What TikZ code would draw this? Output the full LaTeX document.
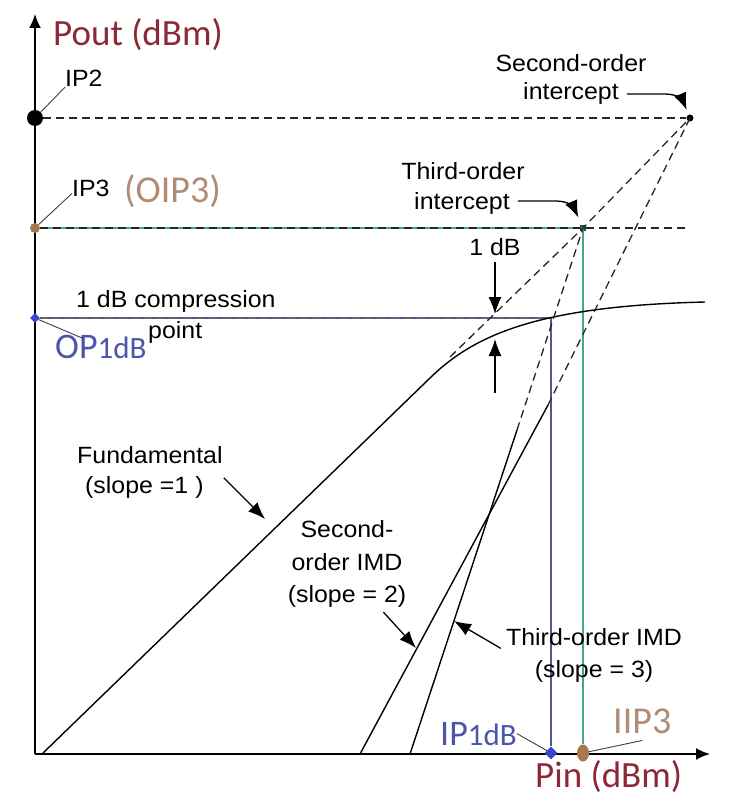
\documentclass[tikz,border=0pt]{standalone}
\usepackage{fontspec}
\setmainfont{Liberation Sans}[FakeStretch=1.06]
\newfontfamily\clb{Carlito}
\usepackage{tikz}
\usetikzlibrary{%
  arrows.meta
 ,calc
 ,shapes.geometric
}
\definecolor{outred}{RGB}{140,40,55}
\definecolor{ipbrown}{RGB}{175,140,115}
\definecolor{dotbrown}{RGB}{165,120,80}
\definecolor{opblue}{RGB}{75,85,170}
\definecolor{lnblue}{RGB}{85,85,150}
\definecolor{dotblue}{RGB}{55,70,200}
\definecolor{lngreen}{RGB}{70,170,120}
\definecolor{dkgreen}{RGB}{40,80,50}
\tikzstyle{plt}=[x=1pt,y=-1pt,line join=round]
\tikzstyle{lbl}=[inner sep=0pt,anchor=base west,font=\fontsize{23.5}{28}\selectfont]
\tikzstyle{clbl}=[lbl,anchor=base]
\tikzstyle{big}=[inner sep=0pt,anchor=base west,font=\clb\fontsize{37}{40}\selectfont]
\tikzstyle{crv}=[line width=1.4pt]
\tikzstyle{dsh}=[line width=1.3pt,black!85,dash pattern=on 8pt off 5pt]
\tikzstyle{axs}=[line width=2pt,-{Latex[length=14pt,width=12pt]}]
\tikzstyle{arr}=[line width=1.3pt,-{Latex[length=17pt,width=13pt]}]
\tikzstyle{ldr}=[line width=0.9pt,black!75]
\tikzstyle{pnt}=[circle,inner sep=0pt,draw=none]
\begin{document}
\begin{tikzpicture}[plt]
  \useasboundingbox (0,0) rectangle (752,802);
  \coordinate (o) at (35,754);
  \coordinate (y_top) at (35,14);
  \coordinate (x_end) at (710,754);
  \coordinate (f_0) at (42,754);
  \coordinate (f_1) at (430,378);
  \coordinate (f_2) at (450,357);
  \coordinate (f_3) at (705,302);
  \coordinate (i2_0) at (360,754);
  \coordinate (i2_1) at (548,405);
  \coordinate (i3_0) at (410,754);
  \coordinate (i3_1) at (517,430);
  \coordinate (c_op) at (551,318);
  \coordinate (c_ip3e) at (690,228);
  \coordinate (c_fa) at (265,519);
  \coordinate (c_s2a) at (416,648);
  \coordinate (c_t3a) at (454,621);
  \coordinate (c_d1) at (495,314);
  \coordinate (c_u0) at (495,393);
  \coordinate (c_u1) at (495,339);

  \draw[axs] (o) -- (y_top);
  \draw[axs] (o) -- (x_end);

  \node[pnt,fill=black,minimum size=16pt] (d_ip2) at (35,118) {};
  \node[pnt,fill=dotbrown,minimum size=10pt] (d_ip3) at (35,228) {};
  \node[diamond,fill=dotblue,inner sep=0pt,minimum size=10pt] (d_op) at (35,318) {};
  \node[diamond,fill=dotblue,inner sep=0pt,minimum size=13pt] (d_ipdb) at (551,753) {};
  \node[ellipse,fill=dotbrown,inner sep=0pt,minimum width=12pt,minimum height=17pt] (d_iip3) at (583,753) {};
  \node[pnt,fill=black,minimum size=7pt] (d_so2) at (690,118) {};
  \node[rectangle,fill=dkgreen,inner sep=0pt,minimum size=6pt] (d_to3) at (583,228) {};

  \draw[line width=1.1pt,lngreen] (d_ip3) -- (d_to3.center) -- (d_iip3);
  \draw[line width=1.1pt,lnblue] (d_op) -- (c_op) -- (d_ipdb);
  \draw[dsh] (d_ip2) -- (d_so2);
  \draw[dsh] (d_ip3) -- (c_ip3e);
  \draw[dsh,black!60] (d_op) -- (c_op);

  \draw[crv] (f_0) -- (f_1) .. controls (475,334) and (540,306) .. (f_3);
  \draw[dsh] (f_2) -- (d_to3.center) -- (d_so2.center);
  \draw[crv] (i2_0) -- (i2_1);
  \draw[dsh] (i2_1) -- (d_so2.center);
  \draw[crv] (i3_0) -- (i3_1);
  \draw[dsh] (i3_1) -- (d_to3.center);

  \node[big,outred] (n_pout) at (53,46) {Pout (dBm)};
  \node[big,outred] (n_pin) at (535,787) {Pin (dBm)};
  \node[lbl] (n_ip2) at (65,87) {IP2};
  \node[lbl] (n_ip3) at (72,197) {IP3};
  \node[big,ipbrown,font=\clb\fontsize{38}{40}\selectfont] (n_oip3) at (124,203) {(OIP3)};
  \node[big,ipbrown,font=\clb\fontsize{38}{40}\selectfont] (n_iip3) at (613,733) {IIP3};
  \node[lbl] (n_cmp) at (76,307) {1 dB compression};
  \node[lbl] (n_pt) at (148,338) {point};
  \node[big,opblue,font=\clb\fontsize{36}{40}\selectfont] (n_op) at (55,358) {OP{\fontsize{31}{32}\selectfont 1dB}};
  \node[big,opblue,font=\clb\fontsize{36}{40}\selectfont] (n_ipdb) at (440,745) {IP{\fontsize{31}{32}\selectfont 1dB}};
  \node[clbl] (n_so2) at (571,72) {Second-order};
  \node[clbl] (n_ic2) at (571,100) {intercept};
  \node[clbl] (n_so3) at (463,180) {Third-order};
  \node[clbl] (n_ic3) at (462,210) {intercept};
  \node[clbl] (n_1db) at (495,255) {1 dB};
  \node[lbl] (n_fun) at (77,463) {Fundamental};
  \node[lbl] (n_sl1) at (85,493) {(slope =1 )};
  \node[clbl] (n_s2a) at (347,537) {Second-};
  \node[clbl] (n_s2b) at (347,570) {order IMD};
  \node[clbl] (n_s2c) at (347,602) {(slope = 2)};
  \node[clbl] (n_t3a) at (594,645) {Third-order IMD};
  \node[clbl] (n_t3b) at (594,677) {(slope = 3)};

  \draw[arr,shorten >=5pt] ([xshift=8pt]n_ic2.east) -- (665,94) .. controls (678,94) and (683,101) .. (d_so2);
  \draw[arr,shorten >=8pt] ([xshift=8pt,yshift=3pt]n_ic3.east) -- (556,201) .. controls (569,201) and (574,208) .. (d_to3);
  \draw[arr] ([yshift=-7pt]n_1db.south) -- (c_d1);
  \draw[arr] (c_u0) -- (c_u1);
  \draw[arr] ([xshift=20pt,yshift=-2pt]n_sl1.north east) -- (c_fa);
  \draw[arr] ([xshift=-23pt,yshift=-5pt]n_s2c.south east) -- (c_s2a);
  \draw[arr] ([xshift=-5pt,yshift=-3pt]n_t3a.south west) -- (c_t3a);

  \draw[ldr] (n_ip2.south west) -- (d_ip2);
  \draw[ldr] ([yshift=4pt]n_ip3.south west) -- (d_ip3);
  \draw[ldr] (d_op) -- ([xshift=28pt,yshift=-4pt]n_op.north west);
  \draw[ldr] (n_ipdb.east) -- (d_ipdb);
  \draw[ldr] (d_iip3) -- ([yshift=-7pt]n_iip3.south);
\end{tikzpicture}
\end{document}
